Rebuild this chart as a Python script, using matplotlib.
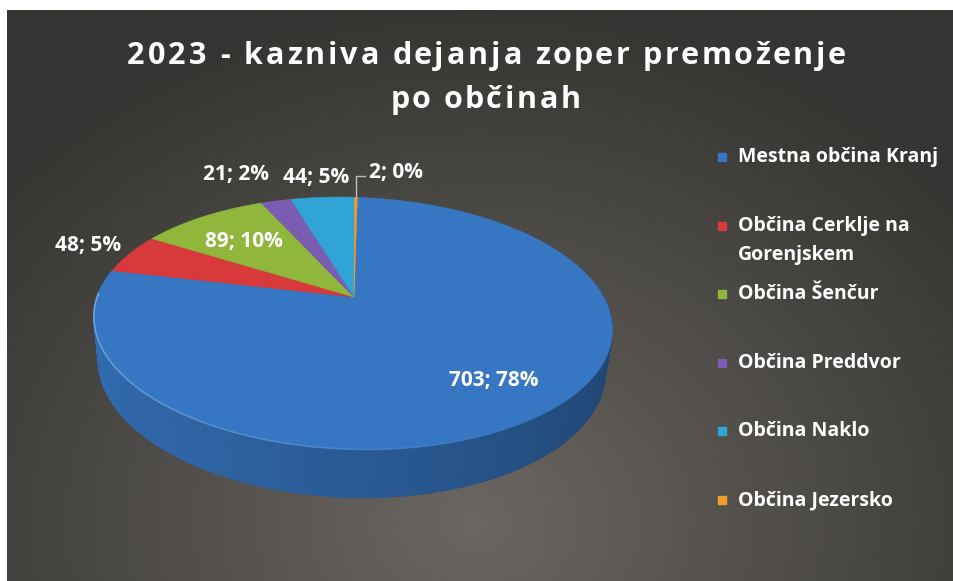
import numpy as np
import matplotlib.pyplot as plt
from matplotlib.colors import to_rgb
from matplotlib.font_manager import FontProperties

# podatki
obcine = ["Mestna občina Kranj", "Občina Cerklje na\nGorenjskem", "Občina Šenčur",
          "Občina Preddvor", "Občina Naklo", "Občina Jezersko"]
dejanja = [703, 48, 89, 21, 44, 2]
barve = ["#3776C3", "#D8393B", "#90B73B", "#7B5CB3", "#30A4D6", "#F29B2D"]

naslov = ["2023 - kazniva dejanja zoper premoženje", "po občinah"]

plt.rcParams['font.family'] = ['Open Sans', 'DejaVu Sans']

W, H = 954, 581
fig = plt.figure(figsize=(W / 100, H / 100), dpi=100, facecolor="white")
ax = fig.add_axes([0, 0, 1, 1])
ax.set_xlim(0, W)
ax.set_ylim(H, 0)
ax.axis("off")

# ozadje - temno sivi gradient
yy, xx = np.mgrid[0:H, 0:W]
d = np.sqrt(((xx - 470) / 620.0) ** 2 + ((yy - 520) / 520.0) ** 2)
d = np.clip(d, 0, 1)
c_sredina = np.array([0.42, 0.40, 0.38])
c_rob = np.array([0.21, 0.21, 0.20])
img = c_sredina[None, None, :] * (1 - d[..., None]) + c_rob[None, None, :] * d[..., None]
ax.imshow(img, extent=[7, W, H, 10], aspect="auto", zorder=0)

# 3D projekcija torte
cx, cy = 354, 297
k, D = 1068.0, 4.21
se, ce = 0.475, 0.880
h = 0.19
rot = np.radians(1.9)


def proj(X, Y, Z):
    Yp = Y * ce - Z * se
    Zp = Z * ce + Y * se
    s = k / (D - Zp)
    dx, dy = X * s, -Yp * s
    return cx + dx * np.cos(rot) - dy * np.sin(rot), cy + dy * np.cos(rot) + dx * np.sin(rot)


vsota = sum(dejanja)
koti = np.array(dejanja) / vsota * 360.0
konci = 90 - np.cumsum(koti)
zacetki = konci + koti

# stranska stena
segmenti = []
for i in range(len(dejanja)):
    t = np.linspace(zacetki[i], konci[i], max(int(koti[i] * 2), 2))
    for a, b in zip(t[:-1], t[1:]):
        segmenti.append((a, b, i))
segmenti.sort(key=lambda s: -np.sin(np.radians((s[0] + s[1]) / 2)))
for a, b, i in segmenti:
    ra, rb = np.radians(a), np.radians(b)
    m = np.radians((a + b) / 2)
    if np.sin(m) > 0.15:
        continue
    f = 0.74 + 0.16 * np.cos(m - np.radians(190))
    col = np.array(to_rgb(barve[i])) * f
    pts = [proj(np.cos(ra), 0, -np.sin(ra)), proj(np.cos(rb), 0, -np.sin(rb)),
           proj(np.cos(rb), -h, -np.sin(rb)), proj(np.cos(ra), -h, -np.sin(ra))]
    px, py = zip(*pts)
    ax.fill(px, py, color=col, lw=0.6, ec=col, zorder=2)

# zgornja ploskev
for i in range(len(dejanja)):
    t = np.radians(np.linspace(zacetki[i], konci[i], max(int(koti[i] * 2), 3)))
    px, py = proj(np.cos(t), 0, -np.sin(t))
    px = np.concatenate([[cx], px])
    py = np.concatenate([[cy], py])
    ax.fill(px, py, color=barve[i], lw=0.4, ec=barve[i], zorder=3)

# svetel rob spredaj (postopoma izgine)
t = np.radians(np.linspace(182, 300, 60))
px, py = proj(np.cos(t), 0, -np.sin(t))
for j in range(len(t) - 1):
    a = 0.75 * (1 - j / (len(t) - 1)) ** 0.8
    ax.plot(px[j:j + 2], py[j:j + 2], color="#86B8EE", lw=1.2, alpha=a,
            solid_capstyle="butt", zorder=4)

# oznake podatkov
lab_r = [0.76, 1.2, 0.66, 1.35, 1.25, 1.0]
lab_dx = [0, 0, -6, -18, 0, 0]
for i, v in enumerate(dejanja):
    m = np.radians((zacetki[i] + konci[i]) / 2)
    besedilo = "%d; %d%%" % (v, round(v / vsota * 100))
    lx, ly = proj(lab_r[i] * np.cos(m), 0, -lab_r[i] * np.sin(m))
    if i == len(dejanja) - 1:
        ax.plot([lx, lx, lx + 9], [ly, ly - 21, ly - 21], color="#BDBDBD", lw=1, zorder=5)
        ax.text(lx + 13, ly - 25, besedilo, color="white", fontsize=15, fontweight="bold",
                ha="left", va="center", zorder=6)
    else:
        ax.text(lx + lab_dx[i], ly, besedilo, color="white", fontsize=15, fontweight="bold",
                ha="center", va="center", zorder=6)

# naslov - z razmikom med crkami
renderer = fig.canvas.get_renderer()
fp = FontProperties(family=['Open Sans', 'DejaVu Sans'], weight="bold", size=22)


def sirina(s):
    w, _, _ = renderer.get_text_width_height_descent(s, fp, ismath=False)
    return w


razmik = 3.0
for j, vrstica in enumerate(naslov):
    sir = [sirina("x" + ch + "x") - sirina("xx") for ch in vrstica]
    skupaj = sum(sir) + razmik * (len(vrstica) - 1)
    x = 486 - skupaj / 2
    for ch, w in zip(vrstica, sir):
        ax.text(x + w / 2, 56 + j * 44, ch, color="white", fontproperties=fp,
                ha="center", va="center", zorder=6)
        x += w + razmik

# legenda
leg_y = np.linspace(157, 500, len(obcine))
for i, ime in enumerate(obcine):
    ax.fill([718, 726, 726, 718], [leg_y[i] - 4, leg_y[i] - 4, leg_y[i] + 4, leg_y[i] + 4],
            color=barve[i], zorder=6)
    for j, vrstica in enumerate(ime.split("\n")):
        ax.text(738, leg_y[i] + j * 29, vrstica, color="white", fontsize=14,
                fontweight="bold", ha="left", va="center", zorder=6)

fig.savefig("out.png", dpi=100, facecolor="white")
